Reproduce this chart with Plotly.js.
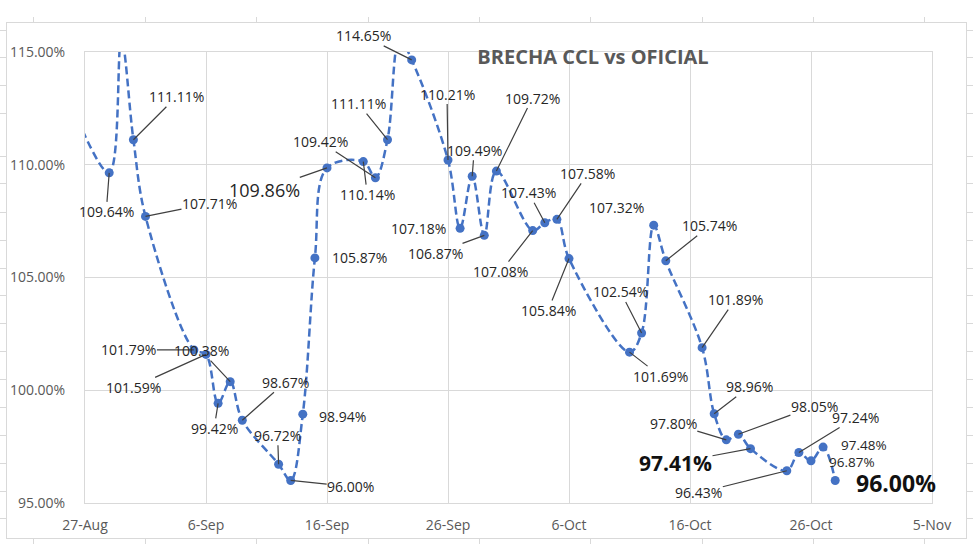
<!DOCTYPE html>
<html>
<head>
<meta charset="utf-8">
<script src="https://cdn.plot.ly/plotly-3.0.1.min.js"></script>
<style>html,body{margin:0;padding:0;background:#fff;} #chart{width:980px;height:557px;}</style>
</head>
<body>
<div id="chart"></div>
<script>
// ---- data ----
const chartTitle = 'BRECHA CCL vs OFICIAL';
const dates = ['2022-08-26','2022-08-29','2022-08-30','2022-08-31','2022-09-01','2022-09-05','2022-09-06','2022-09-07','2022-09-08','2022-09-09','2022-09-12','2022-09-13','2022-09-14','2022-09-15','2022-09-16','2022-09-19','2022-09-20','2022-09-21','2022-09-22','2022-09-23','2022-09-26','2022-09-27','2022-09-28','2022-09-29','2022-09-30','2022-10-03','2022-10-04','2022-10-05','2022-10-06','2022-10-11','2022-10-12','2022-10-13','2022-10-14','2022-10-17','2022-10-18','2022-10-19','2022-10-20','2022-10-21','2022-10-24','2022-10-25','2022-10-26','2022-10-27','2022-10-28'];
const brecha = [112.5,109.64,115.6,111.11,107.71,101.79,101.59,99.42,100.38,98.67,96.72,96.00,98.94,105.87,109.86,110.14,109.42,111.11,115.6,114.65,110.21,107.18,109.49,106.87,109.72,107.08,107.43,107.58,105.84,101.69,102.54,107.32,105.74,101.89,98.96,97.80,98.05,97.41,96.43,97.24,96.87,97.48,96.00];
const xTickStart = '2022-08-27';
const xTickEnd = '2022-11-05';
const yMin = 95, yMax = 115;

// ---- label placement (pixel offsets from each point; null = no label) ----
const labelDx = [null,-3,null,43,64,-65,-73,-4,-29,43,-1,60,40,45,-63,4,-55,-29,null,-48,-1,-42,2,-49,36,-32,-16,31,-21,31,-21,-37,44,33,35,-53,76,-75,-88,57,41,41,61];
const labelDy = [null,39,null,-43,-13,0,33,25,-31,-38,-29,6,2,0,22,33,-36,-36,null,-24,-66,0,-26,18,-73,41,-30,-46,52,24,-41,-18,-35,-48,-27,-16,-28,14,22,-35,1,-2,3];
const labelLeader = [0,1,0,1,1,1,1,1,1,1,1,1,0,0,1,1,1,1,0,1,1,0,1,1,1,1,1,1,1,1,1,0,1,1,1,1,1,1,1,1,0,0,0];
const labelSize = [14,14,14,14,14,14,14,14,14,14,14,14,14,14,18,14,14,14,14,14,14,14,14,14,14,14,14,14,14,14,14,14,14,14,14,14,14,21,14,14,13.5,13.5,23];
const labelBold = [0,0,0,0,0,0,0,0,0,0,0,0,0,0,0,0,0,0,0,0,0,0,0,0,0,0,0,0,0,0,0,0,0,0,0,0,0,1,0,0,0,0,1];

// frame decoration ticks (pixel positions inside outer frame)
const frameXTicks = [26,138,249,361,472,583,695,806,917];
const frameYTicks = [508,481,453,425,382,355,326,298,270,243,215,187,159,131,103,75,47,20];

const FONT = 'Open Sans, Noto Sans, DejaVu Sans, sans-serif';
const W = 980, H = 557;
const m = {l:7, r:14, t:23, b:19};
const pw = W - m.l - m.r, ph = H - m.t - m.b;
const px = v => (v - m.l) / pw;
const py = v => (H - m.b - v) / ph;

const annotations = [];
for (let i = 0; i < dates.length; i++) {
  if (labelDx[i] === null) continue;
  if (brecha[i] < yMin || brecha[i] > yMax) continue;
  const txt = brecha[i].toFixed(2) + '%';
  annotations.push({
    x: dates[i], y: brecha[i], xref: 'x', yref: 'y',
    text: labelBold[i] ? '<b>' + txt + '</b>' : txt,
    showarrow: true, arrowhead: 0, arrowwidth: 1.2,
    arrowcolor: labelLeader[i] ? '#404040' : 'rgba(0,0,0,0)',
    ax: labelDx[i], ay: labelDy[i], standoff: 0,
    borderpad: 0,
    font: {family: FONT, size: labelSize[i], color: labelBold[i] ? '#111' : '#262626'}
  });
}

const traces = [
  {x: [], y: [], xaxis: 'x2', yaxis: 'y2', type: 'scatter', hoverinfo: 'skip', showlegend: false},
  {
    x: dates, y: brecha, type: 'scatter', mode: 'lines+markers',
    line: {color: '#4472C4', width: 2.5, dash: '8px,4px', shape: 'spline', smoothing: 1},
    marker: {color: '#4472C4', size: 9},
    cliponaxis: true, showlegend: false, xaxis: 'x', yaxis: 'y'
  }
];

const layout = {
  width: W, height: H,
  margin: m,
  paper_bgcolor: '#fff', plot_bgcolor: 'rgba(0,0,0,0)',
  showlegend: false,
  title: {text: '<b>' + chartTitle + '</b>', x: 593 / W, xanchor: 'center', y: 1 - 57 / H, yanchor: 'middle',
          font: {family: FONT, size: 20, color: '#595959'}},
  xaxis: {
    domain: [px(85), px(932)], anchor: 'y', type: 'date',
    range: [xTickStart, xTickEnd], tick0: xTickStart, dtick: 10 * 86400000,
    tickformat: '%-d-%b', showgrid: true, gridcolor: '#d9d9d9', gridwidth: 1,
    showline: true, linecolor: '#d9d9d9', mirror: true, zeroline: false,
    ticks: '', ticklabelstandoff: 9,
    tickfont: {family: FONT, size: 14, color: '#595959'}
  },
  yaxis: {
    domain: [py(503), py(52)], anchor: 'x',
    range: [yMin, yMax], dtick: 5, tick0: 95, tickformat: '.2f', ticksuffix: '%',
    showgrid: true, gridcolor: '#d9d9d9', gridwidth: 1,
    showline: true, linecolor: '#d9d9d9', mirror: true, zeroline: false,
    ticks: '', ticklabelstandoff: 16,
    tickfont: {family: FONT, size: 14, color: '#595959'}
  },
  xaxis2: {
    domain: [0, 1], anchor: 'y2', range: [0, pw], showgrid: false, zeroline: false,
    showline: true, linecolor: '#d9d9d9', mirror: 'ticks', ticks: 'outside', ticklen: 5,
    tickcolor: '#d9d9d9', tickvals: frameXTicks, showticklabels: false, fixedrange: true
  },
  yaxis2: {
    domain: [0, 1], anchor: 'x2', range: [0, ph], showgrid: false, zeroline: false,
    showline: true, linecolor: '#d9d9d9', mirror: 'ticks', ticks: 'outside', ticklen: 6,
    tickcolor: '#d9d9d9', tickvals: frameYTicks, showticklabels: false, fixedrange: true
  },
  annotations: annotations
};

Plotly.newPlot('chart', traces, layout, {displayModeBar: false, staticPlot: true});
</script>
</body>
</html>
